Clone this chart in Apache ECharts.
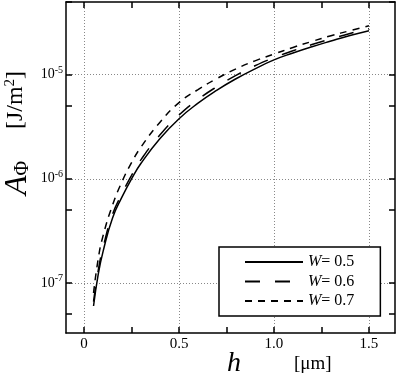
<!DOCTYPE html>
<html>
<head>
<meta charset="utf-8">
<script src="https://cdn.jsdelivr.net/npm/echarts@6/dist/echarts.min.js"></script>
<style>
html, body { margin: 0; padding: 0; background: #fff; }
#main { width: 400px; height: 377px; }
</style>
</head>
<body>
<div id="main"></div>
<script>
// h [um]
var h_data = [0.05, 0.075, 0.1, 0.15, 0.2, 0.25, 0.3, 0.4, 0.5, 0.6, 0.7, 0.8, 0.9, 1.0, 1.1, 1.2, 1.3, 1.4, 1.5];
// A_phi [J/m2]
var w05 = [6.0e-8, 1.22e-7, 2.0e-7, 4.2e-7, 6.7e-7, 1.0e-6, 1.41e-6, 2.44e-6, 3.78e-6, 5.33e-6, 7.12e-6, 9.15e-6, 1.14e-5, 1.39e-5, 1.62e-5, 1.86e-5, 2.11e-5, 2.38e-5, 2.65e-5];
var w06 = [6.6e-8, 1.33e-7, 2.18e-7, 4.55e-7, 7.2e-7, 1.08e-6, 1.53e-6, 2.65e-6, 4.1e-6, 5.78e-6, 7.7e-6, 9.85e-6, 1.22e-5, 1.46e-5, 1.70e-5, 1.95e-5, 2.21e-5, 2.49e-5, 2.77e-5];
var w07 = [8.0e-8, 1.72e-7, 2.83e-7, 5.6e-7, 9.4e-7, 1.43e-6, 2.02e-6, 3.5e-6, 5.39e-6, 7.2e-6, 9.2e-6, 1.14e-5, 1.36e-5, 1.58e-5, 1.83e-5, 2.09e-5, 2.37e-5, 2.65e-5, 2.95e-5];

var x_ticks = [0, 0.25, 0.5, 0.75, 1.0, 1.25, 1.5];
var x_labels = [0, 0.5, 1.0, 1.5];
var y_ticks = [5e-8, 1e-7, 5e-7, 1e-6, 5e-6, 1e-5, 5e-5];
var y_labels = [1e-7, 1e-6, 1e-5];

var font = '"Liberation Serif", "DejaVu Serif", serif';

function pairs(ys) {
    var out = [];
    for (var i = 0; i < h_data.length; i++) {
        out.push([h_data[i], ys[i]]);
    }
    return out;
}

var xMin = -0.095, xMax = 1.637;
var yMin = 3.3e-8, yMax = 5e-5;

var lineBlack = {color: '#000', width: 1.5};
var gridStyle = {color: '#888', width: 1, type: [1, 2]};

var myChart = echarts.init(document.getElementById('main'));
var option = {
    animation: false,
    grid: {left: 66, right: 5, top: 2, bottom: 44, containLabel: false},
    legend: {
        orient: 'vertical',
        left: 219,
        top: 247,
        padding: [7, 26, 7, 25],
        itemWidth: 58,
        itemHeight: 14,
        itemGap: 3.5,
        backgroundColor: '#fff',
        borderColor: '#000',
        borderWidth: 1.5,
        borderRadius: 0,
        itemStyle: {opacity: 0},
        data: ['W=0.5', 'W=0.6', 'W=0.7'],
        formatter: function (name) {
            return '{i|W}= ' + name.substring(2);
        },
        textStyle: {
            fontFamily: font,
            fontSize: 16,
            color: '#000',
            rich: {
                i: {fontFamily: font, fontSize: 16, fontStyle: 'italic', color: '#000'}
            }
        }
    },
    xAxis: [
        {
            type: 'value', min: xMin, max: xMax, position: 'bottom',
            axisLine: {onZero: false, lineStyle: lineBlack},
            axisTick: {inside: true, length: 6, lineStyle: lineBlack, customValues: x_ticks},
            axisLabel: {
                customValues: x_labels, margin: 4,
                fontFamily: font, fontSize: 15, color: '#000',
                formatter: function (v) { return v === 0 ? '0' : v.toFixed(1); }
            },
            splitLine: {show: false}
        },
        {
            type: 'value', min: xMin, max: xMax, position: 'top',
            axisLine: {onZero: false, lineStyle: lineBlack},
            axisTick: {inside: true, length: 6, lineStyle: lineBlack, customValues: x_ticks},
            axisLabel: {show: false},
            splitLine: {show: false}
        },
        {
            type: 'value', min: xMin, max: xMax, position: 'bottom',
            axisLine: {show: false},
            axisTick: {show: false, customValues: x_labels},
            axisLabel: {show: false},
            splitLine: {show: true, lineStyle: gridStyle}
        }
    ],
    yAxis: [
        {
            type: 'log', min: yMin, max: yMax, position: 'left',
            axisLine: {onZero: false, lineStyle: lineBlack},
            axisTick: {inside: true, length: 6, lineStyle: lineBlack, customValues: y_ticks},
            axisLabel: {
                customValues: y_labels, margin: 3,
                fontFamily: font, fontSize: 14, color: '#000',
                formatter: function (v) {
                    return '10{s|' + Math.round(Math.log10(v)) + '}';
                },
                rich: {
                    s: {fontFamily: font, fontSize: 10, color: '#000', padding: [0, 0, 9, 0]}
                }
            },
            splitLine: {show: false}
        },
        {
            type: 'log', min: yMin, max: yMax, position: 'right',
            axisLine: {onZero: false, lineStyle: lineBlack},
            axisTick: {inside: true, length: 6, lineStyle: lineBlack, customValues: y_ticks},
            axisLabel: {show: false},
            splitLine: {show: false}
        },
        {
            type: 'log', min: yMin, max: yMax, position: 'left',
            axisLine: {show: false},
            axisTick: {show: false, customValues: y_labels},
            axisLabel: {show: false},
            splitLine: {show: true, lineStyle: gridStyle}
        }
    ],
    graphic: [
        {
            type: 'text', left: 227, top: 350,
            style: {text: 'h', font: 'italic 28px ' + font, fill: '#000'}
        },
        {
            type: 'text', left: 294, top: 355,
            style: {text: '[μm]', font: '19px ' + font, fill: '#000'}
        },
        {
            type: 'text', x: 29, y: 100, rotation: Math.PI / 2,
            style: {
                text: '[J/m{s|2}]', font: '24px ' + font, fill: '#000',
                align: 'center', verticalAlign: 'bottom',
                rich: {s: {fontFamily: font, fontSize: 15, padding: [0, 0, 11, 0]}}
            }
        },
        {
            type: 'text', x: 34, y: 178, rotation: Math.PI / 2,
            style: {
                text: 'A{s|Φ}', font: 'italic 32px ' + font, fill: '#000',
                align: 'center', verticalAlign: 'bottom',
                rich: {s: {fontFamily: font, fontSize: 20, fontStyle: 'normal', padding: [10, 0, 0, 0]}}
            }
        }
    ],
    series: [
        {
            name: 'W=0.5', type: 'line', smooth: true, symbol: 'none',
            data: pairs(w05),
            lineStyle: {color: '#000', width: 1.5, type: 'solid'},
            itemStyle: {color: '#000'}
        },
        {
            name: 'W=0.6', type: 'line', smooth: true, symbol: 'none',
            data: pairs(w06),
            lineStyle: {color: '#000', width: 1.5, type: [15, 15]},
            itemStyle: {color: '#000'}
        },
        {
            name: 'W=0.7', type: 'line', smooth: true, symbol: 'none',
            data: pairs(w07),
            lineStyle: {color: '#000', width: 1.5, type: [7, 6]},
            itemStyle: {color: '#000'}
        }
    ]
};
myChart.setOption(option);
</script>
</body>
</html>
